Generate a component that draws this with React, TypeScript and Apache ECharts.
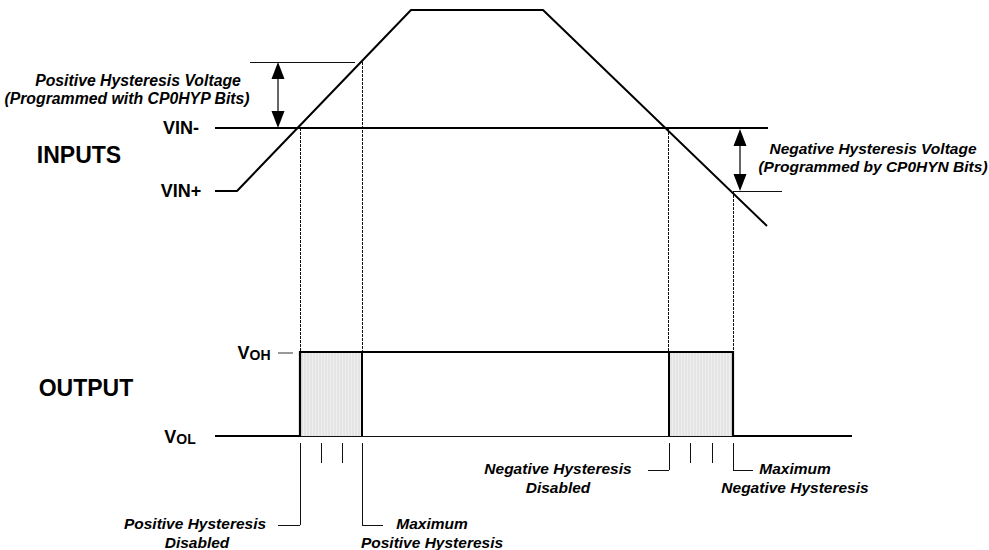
import React, { useEffect, useRef } from "react";
import * as echarts from "echarts";

const FONT = '"Liberation Sans", Arial, Helvetica, sans-serif';

// Diagram coordinates: x = time, y = level (drawn top-down)
const vinMinusTrace = [[215, 128], [768, 128]];
const vinPlusTrace = [[215, 191], [237, 191], [411, 10], [543, 10], [767, 226]];
const outputTrace = [[215, 436], [300, 436], [300, 352], [733, 352], [733, 436], [852, 436]];
const outputLowThin = [[300, 436], [733, 436]];
const VOH_LEVEL = 352;
const VOL_LEVEL = 436;
const hysteresisBands = [[300, 362], [669, 733]]; // start, end
const bandEdges = [[362, 352, 436], [669, 352, 436]]; // x, yTop, yBottom
const projections = [[300, 128, 352], [362, 62, 352], [668, 128, 352], [733, 191, 352]]; // x, from, to
const thresholdRefs = [[250, 355, 62], [733, 782, 191]]; // x1, x2, y
const hysteresisArrows = [[278, 62, 128], [740, 129, 191]]; // x, y1, y2
const markerBrackets = [[300, 443, 525, 278], [362, 443, 525, 383], [669, 443, 470, 648], [733, 443, 470, 753]]; // x, y1, y2, xEnd
const stepTicks = [[321, 443, 463], [342, 443, 463], [690, 443, 463], [712, 443, 463]]; // x, y1, y2
const vohDash = [[278, 353], [293, 353]];

export default function App() {
  const ref = useRef<HTMLDivElement>(null);
  useEffect(() => {
    if (!ref.current) return;
    const chart = echarts.init(ref.current, undefined, { renderer: "svg" });

    const seg = (list: number[][][]) => list.map((c) => ({ coords: c }));
    const italic = (text: string, x: number, y: number, size = 15.5) => ({
      type: "text",
      x,
      y,
      style: {
        text,
        font: `italic bold ${size}px ${FONT}`,
        fill: "#000",
        align: "center",
        verticalAlign: "middle",
      },
    });
    const bold = (text: string, x: number, y: number, size: number) => ({
      type: "text",
      x,
      y,
      style: {
        text,
        font: `bold ${size}px ${FONT}`,
        fill: "#000",
        align: "center",
        verticalAlign: "middle",
      },
    });
    const sub = (main: string, s: string, x: number, y: number) => ({
      type: "text",
      x,
      y,
      style: {
        text: `{v|${main}}{s|${s}}`,
        align: "center",
        verticalAlign: "middle",
        rich: {
          v: { fontSize: 18, fontWeight: "bold", fontFamily: FONT, lineHeight: 18, verticalAlign: "bottom", fill: "#000" },
          s: { fontSize: 14, fontWeight: "bold", fontFamily: FONT, lineHeight: 14, verticalAlign: "bottom", fill: "#000" },
        },
      },
    });

    const option: any = {
      animation: false,
      backgroundColor: "#fff",
      grid: { left: 0, right: 0, top: 0, bottom: 0, containLabel: false },
      xAxis: { type: "value", min: 0, max: 989, show: false },
      yAxis: { type: "value", min: 0, max: 550, inverse: true, show: false },
      graphic: [
        italic("Positive Hysteresis Voltage", 138, 80, 15.8),
        italic("(Programmed with CP0HYP Bits)", 127, 98, 15.8),
        italic("Negative Hysteresis Voltage", 873, 148),
        italic("(Programmed by CP0HYN Bits)", 873, 166),
        bold("VIN-", 181, 128, 18),
        bold("VIN+", 181, 191, 18),
        bold("INPUTS", 79, 155, 23),
        bold("OUTPUT", 86, 388, 23),
        sub("V", "OH", 254, 353),
        sub("V", "OL", 180, 437),
        italic("Positive Hysteresis", 195, 523),
        italic("Disabled", 197, 542),
        italic("Maximum", 432, 523),
        italic("Positive Hysteresis", 432, 542),
        italic("Negative Hysteresis", 558, 468),
        italic("Disabled", 558, 487),
        italic("Maximum", 795, 468),
        italic("Negative Hysteresis", 795, 487),
      ],
      series: [
        {
          type: "custom",
          silent: true,
          data: hysteresisBands,
          renderItem: (params: any, api: any) => {
            const a = api.coord([api.value(0), VOH_LEVEL]);
            const b = api.coord([api.value(1), VOL_LEVEL]);
            const children: any[] = [
              { type: "rect", shape: { x: a[0], y: a[1], width: b[0] - a[0], height: b[1] - a[1] }, style: { fill: "#efefef" } },
            ];
            for (let px = a[0] + 2; px < b[0] - 1; px += 3) {
              children.push({ type: "line", shape: { x1: px, y1: a[1], x2: px, y2: b[1] }, style: { stroke: "#dadada", lineWidth: 1 } });
            }
            return { type: "group", children };
          },
        },
        {
          type: "lines",
          coordinateSystem: "cartesian2d",
          silent: true,
          data: seg(projections.map(([x, y1, y2]) => [[x, y1], [x, y2]])),
          lineStyle: { color: "#111", width: 1, type: [3, 1], opacity: 1 },
        },
        {
          type: "lines",
          coordinateSystem: "cartesian2d",
          silent: true,
          data: seg([
            ...thresholdRefs.map(([x1, x2, y]) => [[x1, y], [x2, y]]),
            ...stepTicks.map(([x, y1, y2]) => [[x, y1], [x, y2]]),
            ...markerBrackets.map(([x, y1, y2]) => [[x, y1], [x, y2]]),
            ...markerBrackets.map(([x, , y2, xe]) => [[x, y2], [xe, y2]]),
            outputLowThin,
          ]),
          lineStyle: { color: "#111", width: 1, opacity: 1 },
        },
        {
          type: "lines",
          coordinateSystem: "cartesian2d",
          silent: true,
          data: seg([vohDash]),
          lineStyle: { color: "#777", width: 1.5, opacity: 1 },
        },
        {
          type: "lines",
          coordinateSystem: "cartesian2d",
          silent: true,
          data: seg(bandEdges.map(([x, y1, y2]) => [[x, y1], [x, y2]])),
          lineStyle: { color: "#000", width: 2, opacity: 1 },
        },
        {
          type: "custom",
          silent: true,
          data: hysteresisArrows,
          renderItem: (params: any, api: any) => {
            const p1 = api.coord([api.value(0), api.value(1)]);
            const p2 = api.coord([api.value(0), api.value(2)]);
            const hw = 6.5;
            const hl = 17;
            return {
              type: "group",
              children: [
                { type: "line", shape: { x1: p1[0], y1: p1[1] + hl, x2: p2[0], y2: p2[1] - hl }, style: { stroke: "#000", lineWidth: 1.2 } },
                { type: "polygon", shape: { points: [[p1[0], p1[1]], [p1[0] - hw, p1[1] + hl], [p1[0] + hw, p1[1] + hl]] }, style: { fill: "#000" } },
                { type: "polygon", shape: { points: [[p2[0], p2[1]], [p2[0] - hw, p2[1] - hl], [p2[0] + hw, p2[1] - hl]] }, style: { fill: "#000" } },
              ],
            };
          },
        },
        {
          type: "line",
          silent: true,
          data: vinMinusTrace,
          symbol: "none",
          lineStyle: { color: "#000", width: 2 },
        },
        {
          type: "line",
          silent: true,
          data: vinPlusTrace,
          symbol: "none",
          lineStyle: { color: "#000", width: 2 },
        },
        {
          type: "line",
          silent: true,
          data: outputTrace,
          symbol: "none",
          lineStyle: { color: "#000", width: 2.2, join: "miter" },
        },
      ],
    };
    chart.setOption(option);
    return () => chart.dispose();
  }, []);

  return (
    <div
      ref={ref}
      style={{ position: "fixed", left: 0, top: 0, width: 989, height: 550, background: "#fff" }}
    />
  );
}
